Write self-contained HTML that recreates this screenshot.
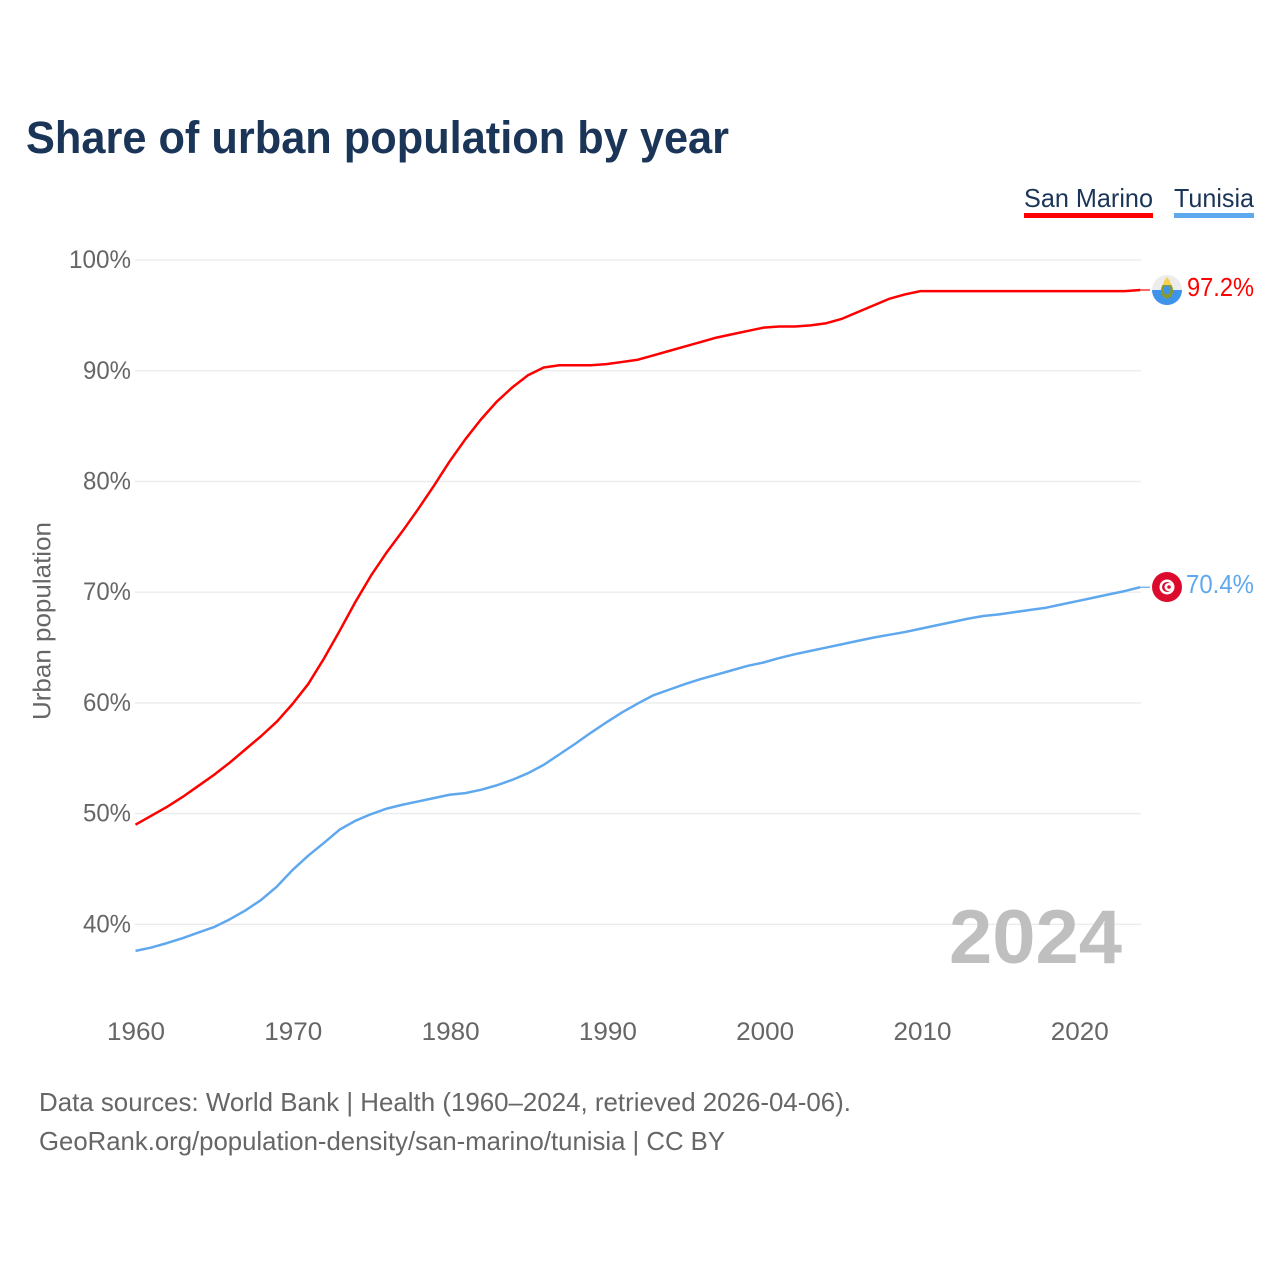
<!DOCTYPE html>
<html>
<head>
<meta charset="utf-8">
<title>Share of urban population by year</title>
<style>
html,body{margin:0;padding:0;background:#fff;width:1280px;height:1280px;overflow:hidden}
svg{display:block}
text{font-family:"Liberation Sans",sans-serif}
</style>
</head>
<body>
<svg id="chart" width="1280" height="1280" viewBox="0 0 1280 1280" xmlns="http://www.w3.org/2000/svg">
  <rect width="1280" height="1280" fill="#fff"/>
  <text x="26" y="153" font-size="45" font-weight="700" fill="#1a3557" textLength="703" lengthAdjust="spacingAndGlyphs">Share of urban population by year</text>

  <g>
    <g>
      <text x="1024" y="207" font-size="26" fill="#1a3557" textLength="129" lengthAdjust="spacingAndGlyphs">San Marino</text>
      <rect x="1024" y="213" width="129" height="5" fill="#ff0000"/>
    </g>
    <g>
      <text x="1174" y="207" font-size="26" fill="#1a3557" textLength="80" lengthAdjust="spacingAndGlyphs">Tunisia</text>
      <rect x="1174" y="213" width="80" height="5" fill="#5fa8ee"/>
    </g>
  </g>

  <g id="grid"></g>
  <g id="yticks"></g>
  <g id="xticks"></g>
  <text transform="translate(50.5,621) rotate(-90)" text-anchor="middle" font-size="25" fill="#666" textLength="198" lengthAdjust="spacingAndGlyphs">Urban population</text>
  <text x="1122" y="963" text-anchor="end" font-size="76" font-weight="700" fill="#bfbfbf" textLength="173" lengthAdjust="spacingAndGlyphs">2024</text>
  <g id="series"></g>

  <g>
    <circle cx="1167" cy="290" r="15" fill="#ececec"/>
    <path d="M1152 290 A15 15 0 0 0 1182 290 Z" fill="#3f94ea"/>
    <ellipse cx="1167" cy="290.5" rx="6" ry="8" fill="#8a9a2a"/>
    <ellipse cx="1167" cy="290" rx="3.5" ry="4.5" fill="#3f94ea"/>
    <path d="M1163 285 L1164 281 L1167 277 L1170 281 L1171 285 Z" fill="#f7cf4f"/>
  </g>
  <g>
    <circle cx="1167" cy="587" r="15" fill="#dc0b2d"/>
    <circle cx="1167" cy="587" r="7.5" fill="#fff"/>
    <circle cx="1167" cy="587" r="5" fill="#dc0b2d"/>
    <circle cx="1168.5" cy="587" r="4" fill="#fff"/>
    <circle cx="1169" cy="587" r="1.8" fill="#dc0b2d"/>
  </g>

  <text x="1254" y="296" text-anchor="end" font-size="26" fill="#ff0000" textLength="67" lengthAdjust="spacingAndGlyphs">97.2%</text>
  <text x="1254" y="593" text-anchor="end" font-size="26" fill="#5fa8ee" textLength="68" lengthAdjust="spacingAndGlyphs">70.4%</text>

  <text x="39" y="1111" font-size="26" fill="#666" textLength="812" lengthAdjust="spacingAndGlyphs">Data sources: World Bank | Health (1960–2024, retrieved 2026-04-06).</text>
  <text x="39" y="1150" font-size="26" fill="#666" textLength="686" lengthAdjust="spacingAndGlyphs">GeoRank.org/population-density/san-marino/tunisia | CC BY</text>
</svg>
<script>
const yTickValues = [40, 50, 60, 70, 80, 90, 100];
const xTickYears = [1960, 1970, 1980, 1990, 2000, 2010, 2020];
const startYear = 1960;
const sanMarinoValues = [
  49.0, 49.8, 50.6, 51.5, 52.5, 53.5, 54.6, 55.8, 57.0, 58.3,
  59.9, 61.7, 64.0, 66.5, 69.1, 71.5, 73.6, 75.5, 77.5, 79.6,
  81.8, 83.8, 85.6, 87.2, 88.5, 89.6, 90.3, 90.5, 90.5, 90.5,
  90.6, 90.8, 91.0, 91.4, 91.8, 92.2, 92.6, 93.0, 93.3, 93.6,
  93.9, 94.0, 94.0, 94.1, 94.3, 94.7, 95.3, 95.9, 96.5, 96.9,
  97.2, 97.2, 97.2, 97.2, 97.2, 97.2, 97.2, 97.2, 97.2, 97.2,
  97.2, 97.2, 97.2, 97.2, 97.3
];
const tunisiaValues = [
  37.6, 37.9, 38.3, 38.75, 39.25, 39.75, 40.45, 41.25, 42.2, 43.4,
  44.9, 46.2, 47.35, 48.55, 49.35, 49.95, 50.45, 50.8, 51.1, 51.4,
  51.7, 51.85, 52.15, 52.55, 53.05, 53.65, 54.4, 55.35, 56.3, 57.3,
  58.25, 59.15, 59.95, 60.7, 61.2, 61.7, 62.15, 62.55, 62.95, 63.35,
  63.65, 64.05, 64.4, 64.7, 65.0, 65.3, 65.6, 65.9, 66.15, 66.4,
  66.7, 67.0, 67.3, 67.6, 67.85, 68.0, 68.2, 68.4, 68.6, 68.9,
  69.2, 69.5, 69.8, 70.1, 70.45
];

const NS = 'http://www.w3.org/2000/svg';
function xScale(year) { return 135.5 + (year - 1960) * 15.7; }
function yScale(value) { return 924.3 - (value - 40) * 11.07; }

function make(tag, attrs, text) {
  const el = document.createElementNS(NS, tag);
  for (const k in attrs) el.setAttribute(k, attrs[k]);
  if (text !== undefined) el.textContent = text;
  return el;
}

const gridGroup = document.getElementById('grid');
const yGroup = document.getElementById('yticks');
const xGroup = document.getElementById('xticks');
const seriesGroup = document.getElementById('series');

yTickValues.forEach(function (v) {
  const line = make('line', {x1: 135, x2: 1141, y1: yScale(v), y2: yScale(v), stroke: '#ececec', 'stroke-width': 1.4});
  
  
  gridGroup.appendChild(line);
  const label = make('text', {x: 131, y: yScale(v) + 8, 'text-anchor': 'end', 'font-size': 25, fill: '#666', textLength: v === 100 ? 62 : 48, lengthAdjust: 'spacingAndGlyphs'}, v + '%');
  
  
  yGroup.appendChild(label);
});

xTickYears.forEach(function (y) {
  const label = make('text', {x: xScale(y) + 0.5 + (y - 1960) * 0.03, y: 1040, 'text-anchor': 'middle', 'font-size': 25, fill: '#666', textLength: 58, lengthAdjust: 'spacingAndGlyphs'}, String(y));
  
  
  xGroup.appendChild(label);
});

function drawSeries(values, color, name) {
  const pts = values.map(function (v, i) { return xScale(startYear + i).toFixed(2) + ',' + yScale(v).toFixed(2); });
  const line = make('polyline', {points: pts.join(' '), fill: 'none', stroke: color, 'stroke-width': 2.5, 'stroke-linejoin': 'round'});
  
  
  seriesGroup.appendChild(line);
  const lastX = xScale(startYear + values.length - 1);
  const lastY = yScale(values[values.length - 1]);
  const connector = make('line', {x1: lastX, y1: lastY, x2: 1150, y2: lastY, stroke: color, 'stroke-width': 1.2});
  
  
  seriesGroup.appendChild(connector);
}

drawSeries(tunisiaValues, '#5fa8ee', 'line-tunisia');
drawSeries(sanMarinoValues, '#ff0000', 'line-san-marino');
</script>
</body>
</html>
